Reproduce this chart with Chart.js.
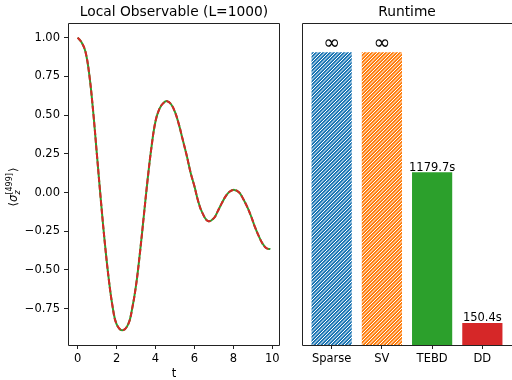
<!DOCTYPE html>
<html>
<head>
<meta charset="utf-8">
<script src="https://cdn.jsdelivr.net/npm/chart.js@4.4.1/dist/chart.umd.min.js"></script>
<style>
  html, body { margin: 0; padding: 0; background: #fff; }
  #wrap { position: relative; width: 512px; height: 380px; }
  #wrap canvas { position: absolute; top: 0; }
</style>
</head>
<body>
<div id="wrap">
  <canvas id="obs" width="290" height="380" style="left:0"></canvas>
  <canvas id="runtime" width="222" height="380" style="left:290px"></canvas>
</div>
<script>
// local observable
var tVals = [0.0, 0.2, 0.4, 0.6, 0.8, 1.0, 1.2, 1.4, 1.6, 1.8, 2.0, 2.3, 2.6, 2.8, 3.0, 3.2, 3.4, 3.6, 3.8, 4.0,
             4.2, 4.4, 4.6, 4.8, 5.0, 5.2, 5.4, 5.6, 5.8, 6.0, 6.2, 6.4, 6.7, 7.0, 7.2, 7.4, 7.6, 7.8, 8.05,
             8.3, 8.5, 8.7, 8.9, 9.1, 9.3, 9.5, 9.7, 9.9];
var sigmaVals = [1.00, 0.97, 0.91, 0.76, 0.52, 0.23, -0.06, -0.33, -0.56, -0.74, -0.85, -0.89, -0.85, -0.75, -0.60, -0.39, -0.15, 0.09, 0.30, 0.46,
                 0.54, 0.577, 0.59, 0.57, 0.52, 0.44, 0.34, 0.24, 0.13, 0.04, -0.06, -0.13, -0.185, -0.165, -0.12, -0.07, -0.025, 0.005, 0.017,
                 0.0, -0.04, -0.09, -0.15, -0.22, -0.28, -0.33, -0.36, -0.365];
var xTicks = [0, 2, 4, 6, 8, 10];
var yTicks = [-0.75, -0.5, -0.25, 0, 0.25, 0.5, 0.75, 1.0];

// runtime panel (infinite runs drawn at 2000)
var methods = ['Sparse', 'SV', 'TEBD', 'DD'];
var runtimes = [2000, 2000, 1179.7, 150.4];
var runtimeText = ['\u221e', '\u221e', '1179.7s', '150.4s'];

var FONT = '"DejaVu Sans", sans-serif';
var INK = '#222';

function hatch(color){
    var c = document.createElement('canvas');
    c.width = 7; c.height = 7;
    var g = c.getContext('2d');
    g.fillStyle = color;
    g.fillRect(0, 0, 7, 7);
    g.strokeStyle = '#fff';
    g.lineWidth = 1.0;
    g.beginPath();
    [0, 3.5, 7, 10.5, 14].forEach(function(k){
        g.moveTo(-1, k + 1);
        g.lineTo(8, k - 8);
    });
    g.stroke();
    return c.getContext('2d').createPattern(c, 'repeat');
}

function spines(ctx, a, right){
    ctx.save();
    ctx.strokeStyle = INK;
    ctx.lineWidth = 1;
    var l = Math.round(a.left) + 0.5, t = Math.round(a.top) + 0.5;
    var r = Math.round(a.right) - 0.5, b = Math.round(a.bottom) + 0.5;
    ctx.beginPath();
    ctx.moveTo(l, b); ctx.lineTo(l, t); ctx.lineTo(right ? r : a.right + 2, t);
    if (right) ctx.lineTo(r, b);
    ctx.moveTo(l, b); ctx.lineTo(right ? r : a.right + 2, b);
    ctx.stroke();
    ctx.restore();
}

function title(ctx, a, text){
    ctx.save();
    ctx.fillStyle = '#000';
    ctx.font = '13.8px ' + FONT;
    ctx.textAlign = 'center';
    ctx.textBaseline = 'alphabetic';
    ctx.fillText(text, (a.left + a.right) / 2, 16);
    ctx.restore();
}

var obsDecor = {
    id: 'obsDecor',
    afterDraw: function(chart){
        var ctx = chart.ctx, a = chart.chartArea;
        spines(ctx, a, true);
        title(ctx, a, 'Local Observable (L=1000)');
        ctx.save();
        ctx.fillStyle = '#000';
        ctx.font = '11.5px ' + FONT;
        ctx.textAlign = 'center';
        ctx.fillText('t', (a.left + a.right) / 2, 377);
        // y label  <sigma_z^[499]>
        ctx.translate(17, (a.top + a.bottom) / 2 + 3);
        ctx.rotate(-Math.PI / 2);
        ctx.textAlign = 'left';
        var big = '11.5px ' + FONT, bigI = 'italic 11.5px ' + FONT;
        var small = '8px ' + FONT, smallI = 'italic 8px ' + FONT;
        ctx.font = big; var w1 = ctx.measureText('\u27e8').width;
        ctx.font = bigI; var w2 = ctx.measureText('\u03c3').width;
        ctx.font = small; var w3 = ctx.measureText('[499]').width;
        ctx.font = big; var w4 = ctx.measureText('\u27e9').width;
        var x = -(w1 + w2 + w3 + w4 + 1) / 2;
        ctx.font = big; ctx.fillText('\u27e8', x, 0); x += w1;
        ctx.font = bigI; ctx.fillText('\u03c3', x, 0); x += w2;
        ctx.font = small; ctx.fillText('[499]', x, -5);
        ctx.font = smallI; ctx.fillText('z', x, 3);
        x += w3 + 1;
        ctx.font = big; ctx.fillText('\u27e9', x, 0);
        ctx.restore();
    }
};

var runDecor = {
    id: 'runDecor',
    afterDraw: function(chart){
        var ctx = chart.ctx, a = chart.chartArea;
        spines(ctx, a, false);
        title(ctx, a, 'Runtime');
        var meta = chart.getDatasetMeta(0);
        ctx.save();
        ctx.fillStyle = '#000';
        ctx.textAlign = 'center';
        ctx.textBaseline = 'alphabetic';
        meta.data.forEach(function(bar, i){
            var txt = runtimeText[i];
            if (txt === '\u221e') {
                ctx.font = '20px ' + FONT;
                ctx.fillText(txt, bar.x, bar.y - 3);
            } else {
                ctx.font = '11.5px ' + FONT;
                ctx.fillText(txt, bar.x, bar.y - 1.5);
            }
        });
        ctx.restore();
    }
};

var tickFont = { family: FONT, size: 11.5 };

new Chart(document.getElementById('obs'), {
    type: 'line',
    data: {
        datasets: [
            {
                label: 'DD',
                data: tVals.map(function(t, i){ return { x: t, y: sigmaVals[i] }; }),
                borderColor: '#d62728',
                borderWidth: 2,
                borderDash: [5.5, 2.4],
                pointRadius: 0,
                tension: 0.4,
                fill: false
            },
            {
                label: 'TEBD',
                data: tVals.map(function(t, i){ return { x: t, y: sigmaVals[i] }; }),
                borderColor: '#2ca02c',
                borderWidth: 2,
                pointRadius: 0,
                tension: 0.4,
                fill: false
            }
        ]
    },
    options: {
        responsive: false,
        animation: false,
        devicePixelRatio: 1,
        layout: { padding: { left: 0, right: 10, top: 23, bottom: 0 } },
        plugins: { legend: { display: false }, title: { display: false }, tooltip: { enabled: false } },
        scales: {
            x: {
                type: 'linear',
                min: -0.495,
                max: 10.395,
                afterFit: function(s){ s.height = 35; },
                afterBuildTicks: function(s){ s.ticks = xTicks.map(function(v){ return { value: v }; }); },
                ticks: { font: tickFont, color: '#000', padding: 3, maxRotation: 0,
                         callback: function(v){ return String(v); } },
                grid: { drawOnChartArea: false, drawTicks: true, tickLength: 4, color: INK },
                border: { display: false }
            },
            y: {
                type: 'linear',
                min: -0.9845,
                max: 1.0945,
                afterFit: function(s){ s.width = 68; },
                afterBuildTicks: function(s){ s.ticks = yTicks.map(function(v){ return { value: v }; }); },
                ticks: { font: tickFont, color: '#000', padding: 4,
                         callback: function(v){ return v.toFixed(2).replace('-', '\u2212'); } },
                grid: { drawOnChartArea: false, drawTicks: true, tickLength: 4, color: INK },
                border: { display: false }
            }
        }
    },
    plugins: [obsDecor]
});

new Chart(document.getElementById('runtime'), {
    type: 'bar',
    data: {
        datasets: [{
            label: 'Runtime',
            data: runtimes.map(function(v, i){ return { x: i, y: v }; }),
            backgroundColor: [hatch('#1f77b4'), hatch('#ff7f0e'), '#2ca02c', '#d62728'],
            borderWidth: 0,
            barPercentage: 0.8,
            categoryPercentage: 1.0
        }]
    },
    options: {
        responsive: false,
        animation: false,
        devicePixelRatio: 1,
        layout: { padding: { left: 0, right: 0, top: 23, bottom: 0 } },
        plugins: { legend: { display: false }, title: { display: false }, tooltip: { enabled: false } },
        scales: {
            x: {
                type: 'linear',
                offset: false,
                min: -0.59,
                max: 3.59,
                afterFit: function(s){ s.height = 35; },
                afterBuildTicks: function(s){ s.ticks = methods.map(function(m, i){ return { value: i }; }); },
                ticks: { font: tickFont, color: '#000', padding: 3, maxRotation: 0,
                         callback: function(v){ return methods[v]; } },
                grid: { offset: false, drawOnChartArea: false, drawTicks: true, tickLength: 4, color: INK },
                border: { display: false }
            },
            y: {
                min: 0,
                max: 2200,
                afterFit: function(s){ s.width = 12; },
                ticks: { display: false },
                grid: { display: false },
                border: { display: false }
            }
        }
    },
    plugins: [runDecor]
});
</script>
</body>
</html>
